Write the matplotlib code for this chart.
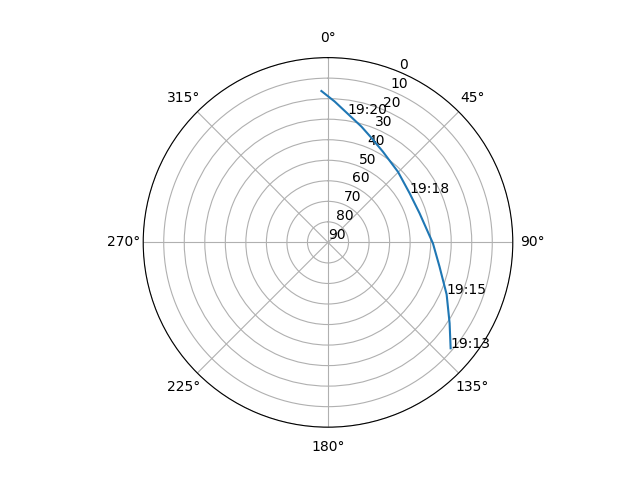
import numpy as np
import matplotlib
matplotlib.use("Agg")
import matplotlib.pyplot as plt

# Trajectoire du passage (azimut en degres, elevation en degres)
azimut = [130.8, 123.6, 113.7, 102.3, 90.5, 82.9, 72.4, 59.0, 44.8, 31.3, 22.0, 16.1, 8.7, 2.7, -2.5]
elevation = [11.1, 18.9, 26.9, 34.4, 38.9, 41.4, 43.2, 43.6, 41.6, 38.4, 34.6, 31.3, 26.6, 21.3, 16.2]

# Etiquettes horaires (indice du point, texte)
idx_labels = [0, 2, 7, 12]
heures = ["19:13", "19:15", "19:18", "19:20"]

fig = plt.figure(figsize=(6.4, 4.8), dpi=100)
ax = fig.add_subplot(111, projection="polar")
ax.set_theta_zero_location("N")
ax.set_theta_direction(-1)

theta = np.radians(azimut)
ax.plot(theta, elevation)

for i, h in zip(idx_labels, heures):
    ax.text(theta[i], elevation[i], h)

ax.set_yticks(range(0, 91, 10))
ax.set_ylim(90, 0)

fig.savefig("out.png")
